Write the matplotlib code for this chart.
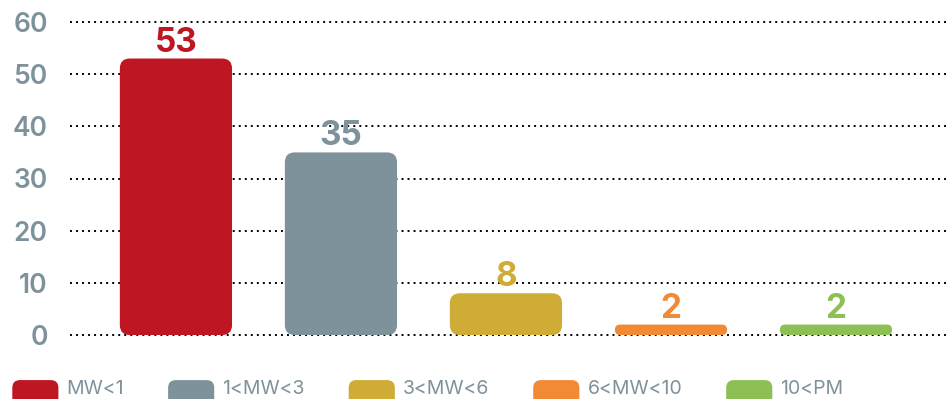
import matplotlib.pyplot as plt
import numpy as np
from matplotlib.patches import FancyBboxPatch, Patch
from matplotlib.legend_handler import HandlerPatch

# 装机容量分段统计
categories = ['MW<1', '1<MW<3', '3<MW<6', '6<MW<10', '10<PM']
values = [53, 35, 8, 2, 2]
colors = ['#be1622', '#7e929c', '#cfac35', '#f28a35', '#8cc055']
yticks = [0, 10, 20, 30, 40, 50, 60]

plt.rcParams['font.family'] = ['Inter', 'DejaVu Sans']
gray = '#7e929c'

fig = plt.figure(figsize=(9.5, 3.99), dpi=100)
ax = fig.add_axes([70/950, 64/399, 878/950, 313/399])
x = np.arange(len(values))
ax.set_xlim(-0.642, 4.679)
ax.set_ylim(0, 60)

# 每个数据单位对应的像素，用来保证圆角是正圆
p0 = ax.transData.transform((0, 0))
p1 = ax.transData.transform((1, 1))
px_x = p1[0] - p0[0]
px_y = p1[1] - p0[1]

bars = ax.bar(x, values, width=0.68)
for b, c in zip(bars, colors):
    b.set_visible(False)
    h = b.get_height()
    r_px = min(10, h * px_y / 2)
    rb = FancyBboxPatch((b.get_x(), 0), b.get_width(), h,
                        boxstyle='round,pad=0,rounding_size=%f' % (r_px / px_x),
                        mutation_aspect=px_x / px_y,
                        fc=c, ec='none', zorder=2)
    ax.add_patch(rb)

# 柱顶数值
for xi, v, c in zip(x, values, colors):
    ax.annotate(str(v), (xi, v), xytext=(0, 5), textcoords='offset points',
                ha='center', va='baseline', fontsize=24, fontweight='bold', color=c)

# 点状网格线
for t in yticks:
    ax.axhline(t, color='black', linestyle=(0, (1, 2.1)), linewidth=1.4,
               zorder=0, clip_on=False)

ax.set_yticks(yticks)
ax.set_xticks([])
ax.tick_params(axis='y', length=0, pad=16, labelsize=19, labelcolor=gray)
for lab in ax.get_yticklabels():
    lab.set_fontweight('semibold')
for s in ax.spines.values():
    s.set_visible(False)


def rounded_handle(legend, orig_handle, xdescent, ydescent, width, height, fontsize):
    return FancyBboxPatch((-xdescent, -ydescent - 6), width, height + 4,
                          boxstyle='round,pad=0,rounding_size=5')


handles = [Patch(color=c, label=cat) for c, cat in zip(colors, categories)]
fig.legend(handles=handles, ncol=5, loc='center left',
           bbox_to_anchor=(13/950, 11/399), frameon=False, borderpad=0,
           borderaxespad=0, fontsize=14, labelcolor=gray, handlelength=2.3,
           handleheight=1.1, handletextpad=0.45, columnspacing=2.3,
           handler_map={Patch: HandlerPatch(patch_func=rounded_handle)})

fig.savefig('out.png', dpi=100)
